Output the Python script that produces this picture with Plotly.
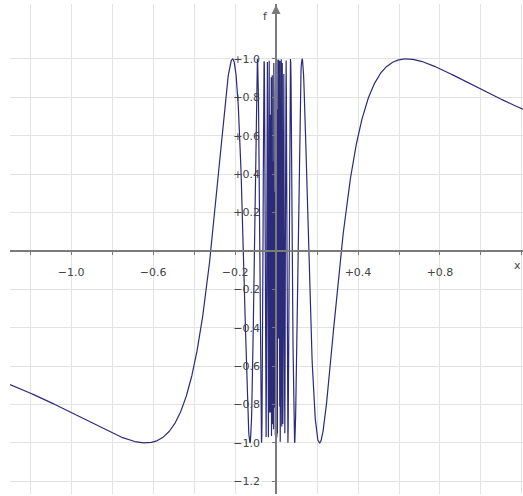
import numpy as np
import plotly.graph_objects as go

# Function shown in the reference: f(x) = sin(1/x), sampled uniformly (as the original plotter did)
x_min, x_max = -1.298, 1.205
y_min, y_max = -1.266, 1.286
n_samples = 2000
x_vals = np.linspace(x_min, x_max, n_samples)
x_vals = x_vals[np.abs(x_vals) > 1e-9]
f_vals = np.sin(1.0 / x_vals)

grid_steps = [round(v, 1) for v in np.arange(-1.2, 1.21, 0.2)]
x_tick_vals = [v for v in grid_steps if v != 0]
x_labeled = {-1.0: "\u22121.0", -0.6: "\u22120.6", -0.2: "\u22120.2", 0.4: "+0.4", 0.8: "+0.8"}
x_tick_text = [x_labeled.get(v, "") for v in x_tick_vals]

y_tick_vals = [v for v in grid_steps if v != 0 and v < 1.1]
y_tick_text = [("+%.1f" % v) if v > 0 else ("\u2212%.1f" % abs(v)) for v in y_tick_vals]

line_color = "#2b2b7a"
axis_color = "#7a7a7a"
grid_color = "#e3e3e3"
font = dict(family="DejaVu Sans", size=11, color="#444444")

fig = go.Figure()
fig.add_trace(go.Scatter(x=x_vals, y=f_vals, mode="lines",
                         line=dict(color=line_color, width=1.2), hoverinfo="skip"))

fig.update_layout(
    width=523, height=496,
    margin=dict(l=10, r=0, t=4, b=2),
    paper_bgcolor="white", plot_bgcolor="white",
    showlegend=False,
    font=font,
    xaxis=dict(range=[x_min, x_max], tickvals=x_tick_vals, ticktext=x_tick_text,
               showgrid=True, gridcolor=grid_color, gridwidth=1, zeroline=False,
               showline=True, linecolor=axis_color, linewidth=1.5,
               ticks="outside", ticklen=3, tickcolor=axis_color, tickwidth=1,
               anchor="free", position=(0 - y_min) / (y_max - y_min),
               ticklabelstandoff=8, tickfont=font, automargin=False),
    yaxis=dict(range=[y_min, y_max], tickvals=y_tick_vals, ticktext=y_tick_text,
               showgrid=True, gridcolor=grid_color, gridwidth=1, zeroline=False,
               showline=True, linecolor=axis_color, linewidth=1.5,
               ticks="outside", ticklen=3, tickcolor=axis_color, tickwidth=1,
               anchor="free", position=(0 - x_min) / (x_max - x_min),
               ticklabelstandoff=10, tickfont=font, automargin=False),
)

fig.add_annotation(x=0, y=y_max - 0.005, ax=0, ay=22, xref="x", yref="y",
                   text="", showarrow=True, arrowhead=2, arrowsize=1.2,
                   arrowwidth=1.5, arrowcolor=axis_color)
fig.add_annotation(x=-0.05, y=1.22, xref="x", yref="y", text="f", showarrow=False,
                   font=font)
fig.add_annotation(x=1.178, y=-0.075, xref="x", yref="y", text="x", showarrow=False,
                   font=font)

fig.write_html("out.html", config={"displayModeBar": False},
               post_script="document.body.style.margin='0';document.body.style.overflow='hidden';")
